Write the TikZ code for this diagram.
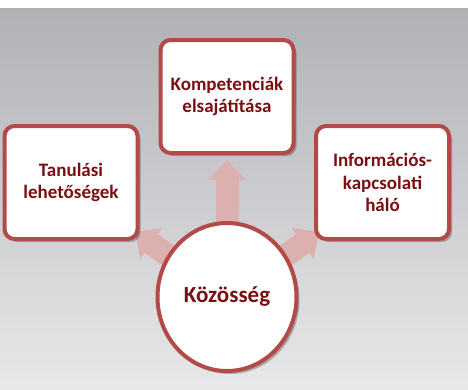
\documentclass[tikz,border=0pt]{standalone}
\usepackage{fontspec}
\setmainfont{Carlito}
\usetikzlibrary{shapes.geometric, shadows, arrows.meta}
\definecolor{boxRed}{RGB}{178,74,72}
\definecolor{textRed}{RGB}{122,15,18}
\definecolor{arrowPink}{RGB}{221,176,176}
\definecolor{bgTop}{RGB}{176,177,181}
\definecolor{bgBottom}{RGB}{232,232,234}
\pgfdeclarelayer{bg}
\pgfdeclarelayer{arrows}
\pgfsetlayers{bg,arrows,main}
\tikzset{
  topic/.style={draw=boxRed, line width=4pt, fill=white, rounded corners=10pt,
    minimum width=133pt, minimum height=113pt, align=center, text=textRed,
    font=\fontsize{19}{22.5}\selectfont\bfseries,
    drop shadow={shadow xshift=3pt, shadow yshift=-3pt, opacity=0.25, fill=black}},
  hub/.style={ellipse, draw=boxRed, line width=4pt, fill=white,
    minimum width=139pt, minimum height=148pt, text=textRed,
    font=\fontsize{23}{27}\selectfont\bfseries,
    drop shadow={shadow xshift=3pt, shadow yshift=-3pt, opacity=0.25, fill=black}},
  flow/.style={arrowPink, line width=23pt, -{Triangle[width=37pt,length=20pt]}}
}
\begin{document}
\begin{tikzpicture}[x=1pt, y=-1pt]
    \useasboundingbox (0,0) rectangle (468,389);

    % background
    \begin{pgfonlayer}{bg}
        \fill[white] (0,0) rectangle (468,389);
        \shade[top color=bgTop, bottom color=bgBottom] (0,8) rectangle (468,389);
    \end{pgfonlayer}

    % boxes
    \node[topic] (comp) at (227,96.5) {Kompetenciák\\elsajátítása};
    \node[topic] (tan) at (71,182.5) {Tanulási\\lehetőségek};
    \node[topic] (info) at (382.5,182.5) {Információs-\\kapcsolati\\háló};

    % center
    \node[hub] (kozos) at (227,297) {Közösség};

    % arrow tips behind the boxes
    \coordinate (tanTip) at (135,232);
    \coordinate (infoTip) at (319,232);

    \begin{pgfonlayer}{arrows}
        \draw[flow] (kozos.center) -- ([yshift=-5pt]comp.south);
        \draw[flow] (kozos.center) -- (tanTip);
        \draw[flow] (kozos.center) -- (infoTip);
    \end{pgfonlayer}
\end{tikzpicture}
\end{document}
